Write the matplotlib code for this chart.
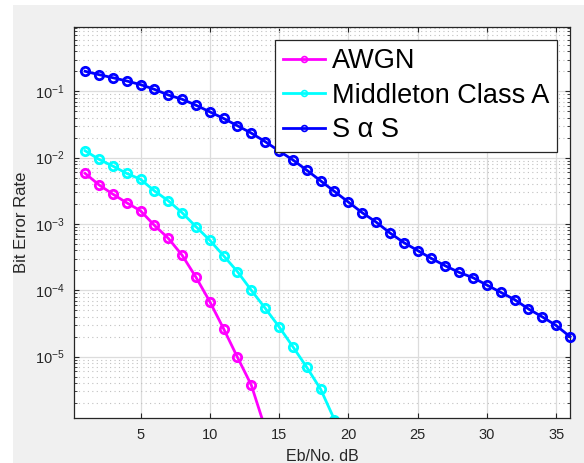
import matplotlib
matplotlib.use("Agg")
import matplotlib.pyplot as plt
from matplotlib.patches import Rectangle
from matplotlib.ticker import LogLocator, NullFormatter, MultipleLocator

plt.rcParams['font.family'] = ['Liberation Sans', 'DejaVu Sans']
plt.rcParams['mathtext.default'] = 'regular'

# Eb/No in dB
ebno_awgn = list(range(1, 15))
ebno_mca = list(range(1, 20))
ebno_sas = list(range(1, 37))

ber_awgn = [5.79e-3, 3.89e-3, 2.82e-3, 2.09e-3, 1.58e-3, 9.55e-4, 6.10e-4,
            3.39e-4, 1.58e-4, 6.76e-5, 2.63e-5, 9.77e-6, 3.72e-6, 8.3e-7]
ber_mca = [1.27e-2, 9.42e-3, 7.46e-3, 5.79e-3, 4.71e-3, 3.16e-3, 2.24e-3,
           1.48e-3, 9.12e-4, 5.69e-4, 3.31e-4, 1.91e-4, 1.00e-4, 5.37e-5,
           2.82e-5, 1.41e-5, 6.92e-6, 3.24e-6, 1.12e-6]
ber_sas = [0.200, 0.178, 0.160, 0.143, 0.126, 0.107, 0.0879, 0.0759, 0.0617,
           0.0490, 0.0389, 0.0302, 0.0234, 0.0174, 0.0126, 9.23e-3, 6.46e-3,
           4.47e-3, 3.09e-3, 2.14e-3, 1.48e-3, 1.07e-3, 7.33e-4, 5.25e-4,
           3.98e-4, 3.02e-4, 2.34e-4, 1.86e-4, 1.55e-4, 1.20e-4, 9.33e-5,
           7.24e-5, 5.25e-5, 3.98e-5, 2.95e-5, 2.00e-5]

W, H = 584, 463
fig = plt.figure(figsize=(W / 100, H / 100), dpi=100, facecolor='white')
# grey matlab window background
fig.patches.append(Rectangle((13 / W, 0), 1, 1 - 5 / H, transform=fig.transFigure,
                             facecolor='#f0f0f0', edgecolor='none', zorder=-10))

ax = fig.add_axes([74 / W, 1 - 418 / H, (570 - 74) / W, (418 - 27) / H])
ax.set_facecolor('white')

kw = dict(marker='o', markerfacecolor='none', linewidth=2, markersize=6,
          markeredgewidth=2)
ax.semilogy(ebno_awgn, ber_awgn, color='#ff00ff', label='AWGN', **kw)
ax.semilogy(ebno_mca, ber_mca, color='#00ffff', label='Middleton Class A', **kw)
ax.semilogy(ebno_sas, ber_sas, color='#0000ff', label='S α S', clip_on=False,
            zorder=5, **kw)

ax.set_xlim(0.2, 36)
ax.set_ylim(1.19e-6, 0.93)
ax.xaxis.set_major_locator(MultipleLocator(5))
ax.yaxis.set_major_locator(LogLocator(base=10, numticks=20))
ax.yaxis.set_minor_locator(LogLocator(base=10, subs=range(2, 10), numticks=20))
ax.yaxis.set_minor_formatter(NullFormatter())

ax.grid(True, which='major', axis='both', color='#dcdcdc', linewidth=0.9,
        linestyle='-')
ax.grid(True, which='minor', axis='y', color='#c0c0c0', linewidth=0.8,
        linestyle=(0, (1, 3)))
ax.set_axisbelow(True)

ax.tick_params(which='both', direction='in', top=True, right=True,
               colors='#262626', labelcolor='#262626', labelsize=10.5)
ax.tick_params(which='major', length=3.5, width=0.8, pad=7)
ax.tick_params(which='minor', length=2, width=0.6)
for s in ax.spines.values():
    s.set_color('#262626')
    s.set_linewidth(0.9)

ax.set_xlabel('Eb/No. dB', fontsize=11.5, color='#262626', labelpad=5)
ax.set_ylabel('Bit Error Rate', fontsize=12, color='#262626', labelpad=4)

leg = ax.legend(loc='upper right', bbox_to_anchor=(557.3 / W, 1 - 40 / H),
                bbox_transform=fig.transFigure, borderaxespad=0, fontsize=19.5,
                fancybox=False, framealpha=1, edgecolor='#262626',
                handlelength=1.55, handletextpad=0.25, borderpad=0.3,
                labelspacing=0.32)
leg.get_frame().set_linewidth(0.9)
for h in leg.legend_handles:
    h.set_markersize(4.2)
    h.set_markeredgewidth(1.2)

fig.savefig('out.png', dpi=100, facecolor=fig.get_facecolor())
